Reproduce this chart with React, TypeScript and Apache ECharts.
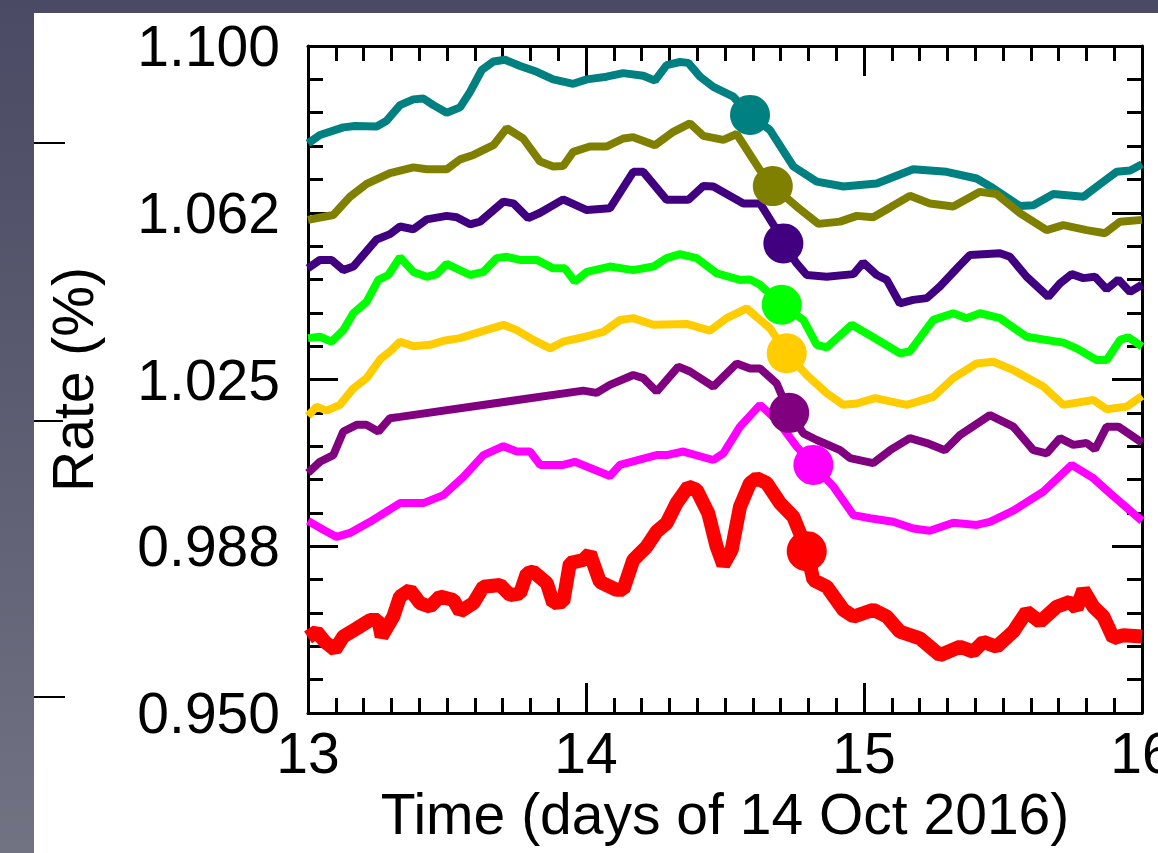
import { useEffect, useRef } from "react";
import * as echarts from "echarts";

type Pt = [number, number];

// Axis tick labels
const xTickLabels = ["13", "14", "15", "16"];
const yTickLabels = ["0.950", "0.988", "1.025", "1.062", "1.100"];

// Rate series (day, rate %)
const teal: Pt[] = [
  [13.0, 1.0781], [13.043, 1.08], [13.127, 1.0817], [13.169, 1.082], [13.247, 1.0819], [13.283, 1.0832],
  [13.331, 1.0867], [13.379, 1.088], [13.415, 1.0882], [13.451, 1.0867], [13.499, 1.085], [13.547, 1.0862],
  [13.583, 1.0897], [13.625, 1.0946], [13.667, 1.0965], [13.709, 1.0969], [13.763, 1.0955], [13.823, 1.0942],
  [13.882, 1.0925], [13.954, 1.0915], [14.003, 1.0925], [14.074, 1.0931], [14.134, 1.0939], [14.206, 1.0933],
  [14.248, 1.0922], [14.29, 1.0957], [14.338, 1.0964], [14.368, 1.0962], [14.41, 1.0931], [14.458, 1.0908],
  [14.53, 1.0886], [14.59, 1.0845], [14.662, 1.0811], [14.746, 1.0729], [14.83, 1.0695], [14.926, 1.0684],
  [15.046, 1.0691], [15.177, 1.0723], [15.297, 1.0717], [15.405, 1.0702], [15.465, 1.068], [15.561, 1.064],
  [15.609, 1.0642], [15.681, 1.0667], [15.789, 1.0661], [15.861, 1.0695], [15.909, 1.0717], [15.957, 1.072],
  [16.0, 1.0734],
];

const olive: Pt[] = [
  [13.0, 1.0609], [13.091, 1.062], [13.151, 1.0661], [13.211, 1.069], [13.295, 1.0714], [13.379, 1.0727],
  [13.427, 1.0723], [13.499, 1.0723], [13.547, 1.0745], [13.595, 1.0755], [13.667, 1.0777], [13.715, 1.0815],
  [13.774, 1.0792], [13.835, 1.074], [13.882, 1.0729], [13.918, 1.073], [13.954, 1.0762], [14.014, 1.0774],
  [14.074, 1.0774], [14.134, 1.0792], [14.17, 1.0795], [14.248, 1.0777], [14.314, 1.0807], [14.374, 1.0826],
  [14.422, 1.0798], [14.494, 1.0789], [14.542, 1.0802], [14.626, 1.0721], [14.672, 1.0685], [14.758, 1.0639],
  [14.836, 1.06], [14.914, 1.0605], [14.974, 1.0618], [15.033, 1.0615], [15.094, 1.0637], [15.165, 1.0663],
  [15.237, 1.0646], [15.321, 1.0639], [15.417, 1.0672], [15.477, 1.0667], [15.561, 1.0624], [15.657, 1.0586],
  [15.717, 1.0597], [15.801, 1.0586], [15.867, 1.0579], [15.921, 1.0605], [16.0, 1.0609],
];

const indigo: Pt[] = [
  [13.0, 1.05], [13.043, 1.0519], [13.085, 1.0519], [13.127, 1.0496], [13.163, 1.0504], [13.247, 1.0565],
  [13.295, 1.0577], [13.331, 1.0594], [13.379, 1.0588], [13.427, 1.061], [13.499, 1.0618], [13.535, 1.0615],
  [13.583, 1.0599], [13.619, 1.0605], [13.703, 1.065], [13.739, 1.0646], [13.792, 1.0613], [13.835, 1.0625],
  [13.918, 1.0655], [14.003, 1.0631], [14.086, 1.0635], [14.17, 1.0717], [14.206, 1.0717], [14.29, 1.0654],
  [14.368, 1.0654], [14.422, 1.0685], [14.458, 1.0684], [14.566, 1.0646], [14.626, 1.0646], [14.686, 1.0586],
  [14.71, 1.0556], [14.758, 1.0511], [14.794, 1.0485], [14.866, 1.0481], [14.962, 1.0487], [14.997, 1.0513],
  [15.046, 1.0485], [15.082, 1.0474], [15.129, 1.0421], [15.177, 1.0429], [15.226, 1.0433], [15.273, 1.0459],
  [15.345, 1.0507], [15.381, 1.053], [15.489, 1.0534], [15.525, 1.0526], [15.585, 1.0481], [15.663, 1.0436],
  [15.705, 1.0466], [15.747, 1.0487], [15.789, 1.0478], [15.831, 1.0481], [15.873, 1.0453], [15.915, 1.0475],
  [15.957, 1.0447], [16.0, 1.0463],
];

const green: Pt[] = [
  [13.0, 1.0343], [13.043, 1.0346], [13.085, 1.0335], [13.127, 1.0361], [13.163, 1.0399], [13.211, 1.0425],
  [13.253, 1.0474], [13.289, 1.0485], [13.331, 1.0525], [13.379, 1.0492], [13.427, 1.0481], [13.463, 1.0487],
  [13.499, 1.051], [13.583, 1.0485], [13.631, 1.0492], [13.679, 1.0523], [13.715, 1.0526], [13.763, 1.0519],
  [13.823, 1.0519], [13.882, 1.05], [13.924, 1.05], [13.96, 1.047], [14.003, 1.0492], [14.086, 1.0504],
  [14.17, 1.0496], [14.242, 1.0504], [14.29, 1.0523], [14.338, 1.0532], [14.398, 1.0523], [14.47, 1.0489],
  [14.554, 1.0474], [14.59, 1.0475], [14.626, 1.0463], [14.704, 1.0418], [14.782, 1.0384], [14.83, 1.0328],
  [14.866, 1.0322], [14.956, 1.0373], [15.033, 1.0345], [15.129, 1.0309], [15.165, 1.0313], [15.249, 1.0384],
  [15.321, 1.0399], [15.369, 1.0388], [15.417, 1.0399], [15.489, 1.0388], [15.585, 1.0346], [15.645, 1.034],
  [15.717, 1.0333], [15.765, 1.032], [15.837, 1.0294], [15.873, 1.0294], [15.921, 1.0339], [15.951, 1.0345],
  [16.0, 1.0324],
];

const gold: Pt[] = [
  [13.0, 1.0168], [13.031, 1.0189], [13.067, 1.018], [13.115, 1.0193], [13.163, 1.023], [13.211, 1.0253],
  [13.259, 1.0295], [13.295, 1.0313], [13.331, 1.0335], [13.379, 1.0325], [13.439, 1.0328], [13.487, 1.0337],
  [13.547, 1.0343], [13.619, 1.0357], [13.703, 1.0373], [13.751, 1.0361], [13.81, 1.0339], [13.871, 1.032],
  [13.918, 1.0335], [13.99, 1.0345], [14.062, 1.0357], [14.122, 1.0384], [14.17, 1.0388], [14.242, 1.0373],
  [14.362, 1.0375], [14.446, 1.036], [14.506, 1.0388], [14.578, 1.041], [14.662, 1.0365], [14.722, 1.0309],
  [14.794, 1.026], [14.866, 1.0219], [14.926, 1.0193], [14.974, 1.0196], [15.04, 1.0208], [15.154, 1.0193],
  [15.249, 1.0211], [15.321, 1.0253], [15.405, 1.0286], [15.465, 1.029], [15.537, 1.0271], [15.645, 1.0234],
  [15.717, 1.0193], [15.825, 1.0204], [15.873, 1.0183], [15.945, 1.0189], [16.0, 1.0213],
];

const purple: Pt[] = [
  [13.0, 1.004], [13.043, 1.0065], [13.091, 1.008], [13.127, 1.0133], [13.175, 1.0148], [13.211, 1.0148],
  [13.253, 1.0133], [13.295, 1.0163], [13.331, 1.0166], [13.99, 1.0225], [14.038, 1.022], [14.086, 1.0238],
  [14.17, 1.026], [14.206, 1.0253], [14.254, 1.0223], [14.332, 1.0279], [14.374, 1.0268], [14.458, 1.0234],
  [14.542, 1.0286], [14.59, 1.0275], [14.626, 1.0275], [14.686, 1.0241], [14.731, 1.0175], [14.782, 1.0129],
  [14.83, 1.0114], [14.914, 1.0091], [14.95, 1.0073], [15.033, 1.0062], [15.094, 1.0091], [15.165, 1.0118],
  [15.226, 1.0107], [15.291, 1.0091], [15.345, 1.0125], [15.453, 1.017], [15.537, 1.0144], [15.609, 1.0091],
  [15.657, 1.0084], [15.705, 1.0118], [15.753, 1.0103], [15.801, 1.0107], [15.831, 1.0093], [15.873, 1.0144],
  [15.915, 1.0144], [16.0, 1.0108],
];

const magenta: Pt[] = [
  [13.0, 0.9932], [13.055, 0.9912], [13.103, 0.9896], [13.151, 0.9905], [13.223, 0.993], [13.331, 0.9972],
  [13.415, 0.9972], [13.487, 0.999], [13.559, 1.0031], [13.631, 1.008], [13.703, 1.01], [13.751, 1.0088],
  [13.799, 1.0088], [13.835, 1.0058], [13.918, 1.0058], [13.96, 1.0065], [14.086, 1.0033], [14.122, 1.0058],
  [14.254, 1.008], [14.29, 1.008], [14.35, 1.0088], [14.458, 1.0069], [14.494, 1.0084], [14.554, 1.0144],
  [14.626, 1.0193], [14.686, 1.0159], [14.758, 1.0099], [14.818, 1.0058], [14.89, 1.0009], [14.962, 0.9945],
  [15.022, 0.9938], [15.105, 0.993], [15.177, 0.9915], [15.237, 0.991], [15.321, 0.9928], [15.405, 0.9923],
  [15.453, 0.993], [15.537, 0.9955], [15.645, 0.9998], [15.747, 1.0058], [15.825, 1.0028], [15.885, 0.9994],
  [16.0, 0.9932],
];

const red: Pt[] = [
  [13.0, 0.967], [13.031, 0.9683], [13.061, 0.966], [13.097, 0.9642], [13.127, 0.9672], [13.175, 0.969],
  [13.223, 0.9709], [13.253, 0.9709], [13.265, 0.9672], [13.307, 0.9717], [13.331, 0.9762], [13.367, 0.9777],
  [13.403, 0.9747], [13.439, 0.9739], [13.475, 0.9762], [13.523, 0.9754], [13.547, 0.9728], [13.595, 0.9747],
  [13.631, 0.9784], [13.691, 0.9788], [13.727, 0.9765], [13.763, 0.9769], [13.787, 0.9814], [13.81, 0.9818],
  [13.859, 0.9792], [13.882, 0.9747], [13.918, 0.975], [13.942, 0.9837], [13.99, 0.9844], [14.014, 0.9859],
  [14.026, 0.9837], [14.05, 0.9795], [14.11, 0.9777], [14.134, 0.9777], [14.17, 0.9844], [14.218, 0.9874],
  [14.254, 0.9908], [14.29, 0.9927], [14.326, 0.9972], [14.368, 1.0009], [14.398, 1.0002], [14.44, 0.9949],
  [14.47, 0.9874], [14.494, 0.9833], [14.524, 0.9867], [14.554, 0.9964], [14.59, 1.0017], [14.614, 1.0028],
  [14.65, 1.0017], [14.698, 0.9972], [14.746, 0.9941], [14.77, 0.9904], [14.794, 0.9864], [14.818, 0.9799],
  [14.866, 0.9784], [14.926, 0.9732], [14.962, 0.9717], [15.033, 0.9732], [15.082, 0.9717], [15.129, 0.9683],
  [15.201, 0.9668], [15.273, 0.963], [15.345, 0.9649], [15.393, 0.9638], [15.429, 0.966], [15.477, 0.9649],
  [15.537, 0.9683], [15.585, 0.9728], [15.633, 0.9705], [15.693, 0.9739], [15.741, 0.975], [15.765, 0.9735],
  [15.789, 0.9777], [15.825, 0.9739], [15.861, 0.9717], [15.897, 0.9668], [15.933, 0.9675], [16.0, 0.9672],
];

const seriesData: Pt[][] = [teal, olive, indigo, green, gold, purple, magenta, red];
const seriesColors = ["#008080", "#808000", "#400080", "#00ff00", "#ffcc00", "#800080", "#ff00ff", "#ff0000"];

// Highlighted point on each curve
const markers: Pt[] = [
  [14.59, 1.0845], [14.672, 1.0685], [14.71, 1.0556], [14.704, 1.0418],
  [14.722, 1.0309], [14.731, 1.0175], [14.818, 1.0058], [14.794, 0.9864],
];

const FONT = "'Liberation Sans', Arial, Helvetica, sans-serif";

export default function App() {
  const ref = useRef<HTMLDivElement>(null);

  useEffect(() => {
    if (!ref.current) return;
    const chart = echarts.init(ref.current, undefined, { renderer: "svg" });

    const frame = { show: true, onZero: false, lineStyle: { color: "#000", width: 3 } };
    const tick = { show: true, inside: true, length: 30, lineStyle: { color: "#000", width: 3 } };
    const label = { color: "#000", fontSize: 57, fontFamily: FONT };

    const xBase = {
      type: "value" as const,
      min: 13,
      max: 16,
      interval: 1,
      axisLine: frame,
      axisTick: tick,
      minorTick: { show: true, splitNumber: 10, length: 15, lineStyle: { color: "#000", width: 3 } },
      splitLine: { show: false },
      minorSplitLine: { show: false },
    };
    const yBase = {
      type: "value" as const,
      min: 0.95,
      max: 1.1,
      interval: 0.0375,
      axisLine: frame,
      axisTick: tick,
      minorTick: { show: true, splitNumber: 5, length: 15, lineStyle: { color: "#000", width: 3 } },
      splitLine: { show: false },
      minorSplitLine: { show: false },
    };

    const lineSeries = seriesData.map((d, i) => ({
      type: "line" as const,
      data: d,
      showSymbol: false,
      symbol: "none",
      clip: true,
      z: 2,
      lineStyle: { color: seriesColors[i], width: i === 7 ? 14 : 8 },
    }));
    const markerSeries = markers.map((m, i) => ({
      type: "scatter" as const,
      data: [m],
      symbol: "circle",
      symbolSize: 40,
      z: 3,
      itemStyle: { color: seriesColors[i], opacity: 1 },
    }));

    chart.setOption({
      animation: false,
      grid: {
        left: 308,
        top: 46,
        width: 834,
        height: 667,
        containLabel: false,
        outerBoundsMode: "none",
      },
      xAxis: [
        {
          ...xBase,
          position: "bottom",
          axisLabel: {
            ...label,
            margin: 11,
            formatter: (v: number) => xTickLabels[Math.round(v - 13)] ?? "",
          },
          name: "Time (days of 14 Oct 2016)",
          nameLocation: "middle",
          nameGap: 70,
          nameTextStyle: label,
        },
        { ...xBase, position: "top", axisLabel: { show: false } },
      ],
      yAxis: [
        {
          ...yBase,
          position: "left",
          axisLabel: {
            ...label,
            margin: 28,
            formatter: (v: number) => yTickLabels[Math.round((v - 0.95) / 0.0375)] ?? "",
          },
          name: "Rate (%)",
          nameLocation: "middle",
          nameRotate: 90,
          nameGap: 207,
          nameTextStyle: label,
        },
        { ...yBase, position: "right", axisLabel: { show: false } },
      ],
      graphic: [
        { type: "line", shape: { x1: 34, y1: 143, x2: 65, y2: 143 }, style: { stroke: "#000", lineWidth: 2 } },
        { type: "line", shape: { x1: 34, y1: 421, x2: 63, y2: 421 }, style: { stroke: "#000", lineWidth: 2 } },
        { type: "line", shape: { x1: 34, y1: 697, x2: 65, y2: 697 }, style: { stroke: "#000", lineWidth: 2 } },
      ],
      series: [...lineSeries, ...markerSeries],
    });

    return () => chart.dispose();
  }, []);

  return (
    <div
      style={{
        position: "fixed",
        left: 0,
        top: 0,
        width: 1158,
        height: 853,
        overflow: "hidden",
        background: "linear-gradient(180deg, #4a4a64 0%, #5a5b70 45%, #717282 100%)",
      }}
    >
      <div style={{ position: "absolute", left: 34, top: 13, right: 0, bottom: 0, background: "#fff" }} />
      <div ref={ref} style={{ position: "absolute", left: 0, top: 0, width: 1158, height: 853 }} />
    </div>
  );
}
